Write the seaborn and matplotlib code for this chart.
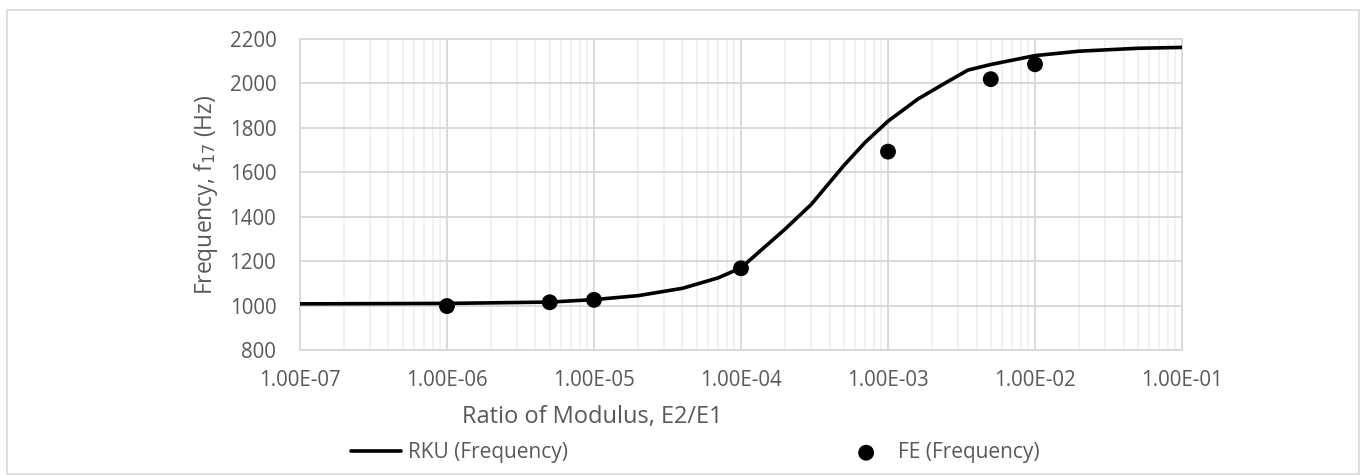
import numpy as np
import pandas as pd
import seaborn as sns
import matplotlib.pyplot as plt
from matplotlib.patches import Rectangle
from matplotlib.ticker import LogLocator, NullFormatter

# RKU curve
rku_ratio = [1e-7, 1e-6, 5e-6, 1e-5, 2e-5, 4e-5, 7e-5, 1e-4, 2e-4, 3e-4, 5e-4,
             7e-4, 1e-3, 1.6e-3, 2.5e-3, 3.5e-3, 5e-3, 1e-2, 2e-2, 5e-2, 1e-1]
rku_freq = [1008, 1010, 1016, 1027, 1045, 1078, 1125, 1170, 1345, 1455, 1630,
            1735, 1830, 1930, 2005, 2060, 2085, 2125, 2145, 2158, 2162]

# FE points
fe_ratio = [1e-6, 5e-6, 1e-5, 1e-4, 1e-3, 5e-3, 1e-2]
fe_freq = [998, 1015, 1026, 1168, 1693, 2019, 2086]

xtick_vals = [1e-7, 1e-6, 1e-5, 1e-4, 1e-3, 1e-2, 1e-1]
xtick_labels = ['1.00E-07', '1.00E-06', '1.00E-05', '1.00E-04',
                '1.00E-03', '1.00E-02', '1.00E-01']
ytick_vals = [800, 1000, 1200, 1400, 1600, 1800, 2000, 2200]

rku = pd.DataFrame({'ratio': rku_ratio, 'freq': rku_freq})
fe = pd.DataFrame({'ratio': fe_ratio, 'freq': fe_freq})

sns.set_theme(style='white')
plt.rcParams['font.family'] = ['Open Sans', 'DejaVu Sans']
txt = '#595959'
grid_major = '#d9d9d9'
grid_minor = '#efefef'

fig = plt.figure(figsize=(13.61, 4.75), dpi=100)
ax = fig.add_axes([0.2204, 0.263, 0.8685 - 0.2204, 0.918 - 0.263])

sns.lineplot(data=rku, x='ratio', y='freq', ax=ax, color='black', lw=2.6,
             label='RKU (Frequency)', zorder=3)
sns.scatterplot(data=fe, x='ratio', y='freq', ax=ax, color='black', s=130,
                edgecolor='none', label='FE (Frequency)', zorder=4)

ax.set_xscale('log')
ax.set_xlim(1e-7, 1e-1)
ax.set_ylim(800, 2200)
ax.set_xticks(xtick_vals)
ax.set_xticklabels(xtick_labels)
ax.xaxis.set_minor_locator(LogLocator(base=10, subs=np.arange(2, 10), numticks=20))
ax.xaxis.set_minor_formatter(NullFormatter())
ax.set_yticks(ytick_vals)

ax.grid(True, which='major', color=grid_major, lw=1.4, zorder=0)
ax.grid(True, which='minor', axis='x', color=grid_minor, lw=1.2, zorder=0)
ax.set_axisbelow(True)
for s in ax.spines.values():
    s.set_color(grid_major)
    s.set_linewidth(1.4)

ax.tick_params(axis='both', length=0, labelsize=14.8, colors=txt)
ax.tick_params(axis='x', pad=14)
ax.tick_params(axis='y', pad=17)
ax.set_xlabel('Ratio of Modulus, E2/E1', fontsize=17, color=txt)
ax.xaxis.set_label_coords(0.332, -0.178)
ax.set_ylabel('Frequency, f$_{17}$ (Hz)', fontsize=16.5, color=txt, labelpad=7)

ax.legend(loc='center', bbox_to_anchor=(0.511, 0.047), bbox_transform=fig.transFigure,
          ncol=2, frameon=False, fontsize=15, labelcolor=txt, handlelength=2.4,
          handletextpad=0.33, columnspacing=13.1)

fig.patches.append(Rectangle((7 / 1361, 1 / 475), 1352 / 1361, 464 / 475,
                             transform=fig.transFigure, fill=False,
                             edgecolor=grid_major, lw=1.2))

fig.savefig('out.png', dpi=100)
